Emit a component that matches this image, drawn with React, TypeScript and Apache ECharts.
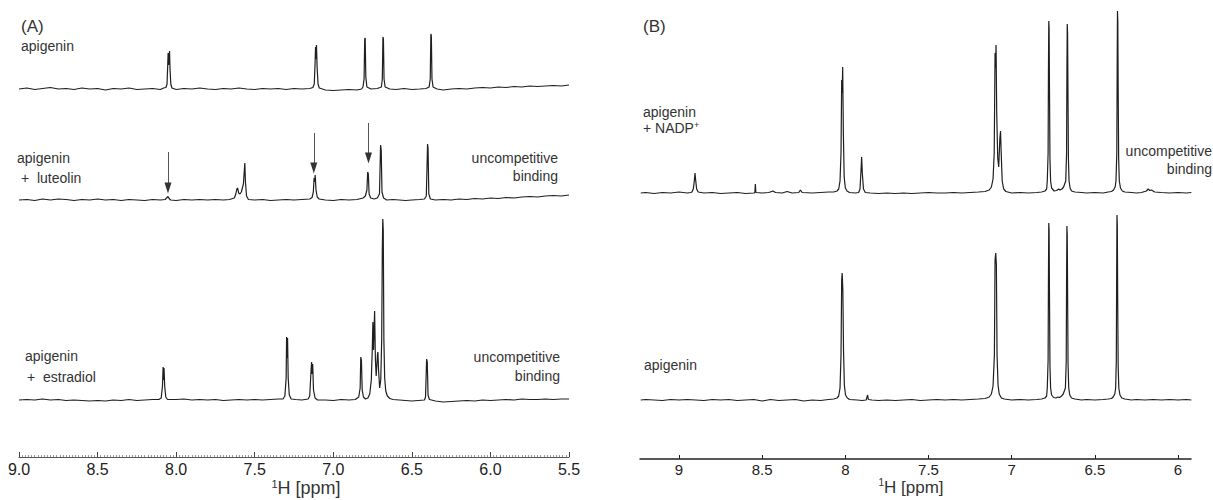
import React, { useEffect, useRef } from "react";
import * as echarts from "echarts";

type Pt = [number, number];

const FONT = "'Liberation Sans', Arial, Helvetica, sans-serif";
const LINE = "#1f1f1f";
const TEXT = "#333";

// tick labels
const ticksA = [9.0, 8.5, 8.0, 7.5, 7.0, 6.5, 6.0, 5.5];
const ticksB = [9, 8.5, 8, 7.5, 7, 6.5, 6];

// Panel A – apigenin (top trace), [ppm, intensity]
const apigeninA: Pt[] = [
  [9.0, 0], [8.95, 1], [8.9, -0.5], [8.85, 0.5], [8.8, 1.5], [8.75, 0], [8.7, 0.5], [8.65, -0.5], [8.6, 1], [8.55, 0],
  [8.5, 0.5], [8.45, -1], [8.4, 0.5], [8.35, 0], [8.3, 1], [8.25, -0.5], [8.2, 0], [8.15, 0.5], [8.1, -0.5], [8.08, 1],
  [8.065, 1.5], [8.058, 5], [8.054, 22], [8.051, 36], [8.048, 24], [8.045, 31], [8.042, 38], [8.039, 20], [8.034, 5], [8.027, 1],
  [8.0, -0.5], [7.95, 0.5], [7.9, 0], [7.85, 1], [7.8, 0], [7.75, -0.5], [7.7, 0.5], [7.65, 0], [7.6, 1], [7.55, 0],
  [7.5, -0.5], [7.45, 0.5], [7.4, 0], [7.35, 0.5], [7.3, -0.5], [7.25, 0.5], [7.2, 0], [7.15, 0.5],
  [7.13, 1.5], [7.121, 5], [7.116, 25], [7.113, 42], [7.11, 30], [7.107, 44], [7.103, 22], [7.097, 5], [7.089, 1],
  [7.05, -1], [7.0, -1.5], [6.95, -1], [6.9, -0.5], [6.85, -1], [6.82, 0],
  [6.811, 2], [6.804, 10], [6.8, 50], [6.797, 51], [6.793, 12], [6.786, 2],
  [6.76, 0], [6.72, 0.5],
  [6.694, 2], [6.688, 10], [6.684, 52], [6.681, 50], [6.677, 10], [6.67, 2],
  [6.64, 0], [6.6, -0.5], [6.55, 0.5], [6.5, -0.5], [6.45, 0], [6.41, 0.5],
  [6.39, 2], [6.383, 10], [6.379, 55], [6.376, 53], [6.372, 10], [6.365, 2],
  [6.34, 0], [6.3, -1], [6.25, 0], [6.2, 0.5], [6.15, 0], [6.1, 1], [6.05, 1.5], [6.0, 1], [5.95, 2], [5.9, 1.5],
  [5.85, 2.5], [5.8, 2], [5.75, 3], [5.7, 2.5], [5.65, 3], [5.6, 3.5], [5.55, 3], [5.5, 4],
];

// Panel A – apigenin + luteolin (middle trace)
const luteolinA: Pt[] = [
  [9.0, 0], [8.95, 0.5], [8.9, -0.5], [8.85, 1], [8.8, 0], [8.75, 1], [8.7, 0.5], [8.65, -0.5], [8.6, 0.5], [8.55, 0],
  [8.5, 1], [8.45, 0], [8.4, 0.5], [8.35, -0.5], [8.3, 0.5], [8.25, 0], [8.2, -0.5], [8.15, 0.5], [8.1, 0], [8.07, 0.5],
  [8.058, 2.5], [8.052, 3.5], [8.045, 1.5], [8.035, 0],
  [8.0, -0.5], [7.95, 0.5], [7.9, 0], [7.85, 0.5], [7.8, 0], [7.75, 0.5], [7.7, 0], [7.66, 0.5],
  [7.63, 2], [7.62, 6], [7.614, 11], [7.609, 12], [7.602, 7], [7.594, 6], [7.585, 8], [7.572, 16], [7.566, 30], [7.563, 37], [7.559, 18], [7.552, 4], [7.54, 0.5],
  [7.5, 0], [7.45, 0.5], [7.4, -0.5], [7.35, 0], [7.3, 0.5], [7.25, 0], [7.2, 0.5], [7.15, 1],
  [7.135, 2.5], [7.127, 8], [7.122, 22], [7.119, 18], [7.115, 25], [7.11, 10], [7.102, 3], [7.09, 1],
  [7.05, 0], [7.0, -0.5], [6.95, 0.5], [6.9, 0], [6.85, 0.5], [6.81, 2],
  [6.796, 4], [6.786, 10], [6.781, 28], [6.777, 26], [6.772, 6], [6.762, 2], [6.74, 1], [6.72, 2],
  [6.706, 6], [6.699, 55], [6.695, 50], [6.69, 8], [6.68, 2], [6.66, 0],
  [6.62, 0.5], [6.58, 0], [6.54, -0.5], [6.5, 0], [6.45, 0.5], [6.42, 1],
  [6.408, 4], [6.4, 56], [6.397, 52], [6.392, 6], [6.382, 1],
  [6.35, 0], [6.3, 0.5], [6.25, 0], [6.2, 1], [6.15, 0.5], [6.1, 1.5], [6.05, 1], [6.0, 2], [5.95, 1.5], [5.9, 2.5],
  [5.85, 2], [5.8, 3], [5.75, 3.5], [5.7, 3], [5.65, 4], [5.6, 4.5], [5.55, 4], [5.5, 5],
];

// Panel A – apigenin + estradiol (bottom trace)
const estradiolA: Pt[] = [
  [9.0, 0], [8.95, 0.5], [8.9, 0], [8.85, 1], [8.8, 0], [8.75, 0.5], [8.7, -0.5], [8.65, 0], [8.6, -0.5], [8.55, -1],
  [8.5, -0.5], [8.45, -1], [8.4, 0], [8.35, -0.5], [8.3, 0.5], [8.25, -0.5], [8.2, 0], [8.15, 0.5], [8.11, 0.5],
  [8.095, 2], [8.087, 14], [8.083, 33], [8.08, 20], [8.077, 32], [8.073, 14], [8.066, 3], [8.055, 0.5],
  [8.0, 0.5], [7.95, 1], [7.9, 0], [7.85, 0.5], [7.8, 0], [7.75, 0.5], [7.7, -0.5], [7.65, 0], [7.6, 0.5], [7.55, 0],
  [7.5, 0.5], [7.45, 0], [7.4, 0.5], [7.35, 1], [7.32, 1],
  [7.308, 4], [7.3, 22], [7.297, 63], [7.294, 42], [7.291, 62], [7.287, 22], [7.28, 5], [7.268, 1],
  [7.24, 0.5], [7.2, 0], [7.16, 1],
  [7.15, 4], [7.142, 28], [7.138, 38], [7.135, 26], [7.131, 36], [7.126, 10], [7.116, 2], [7.1, 0],
  [7.05, 0], [7.0, -0.5], [6.95, 0.5], [6.9, 0], [6.86, 0.5],
  [6.838, 3], [6.829, 12], [6.825, 43], [6.821, 40], [6.816, 10], [6.808, 3], [6.795, 1], [6.78, 2],
  [6.768, 6], [6.758, 20], [6.752, 50], [6.748, 78], [6.744, 50], [6.737, 89], [6.732, 40], [6.727, 24],
  [6.719, 45], [6.716, 48], [6.712, 30], [6.705, 12], [6.698, 20], [6.692, 60], [6.688, 150], [6.685, 181],
  [6.682, 170], [6.678, 60], [6.673, 22], [6.666, 9], [6.656, 4], [6.64, 1.5], [6.62, 0.5],
  [6.58, 0], [6.54, -0.5], [6.5, -1], [6.46, -0.5], [6.42, 0],
  [6.413, 3], [6.406, 41], [6.402, 38], [6.397, 5], [6.388, 0.5],
  [6.35, -1], [6.3, -2], [6.25, -1.5], [6.2, -1], [6.15, -0.5], [6.1, -1], [6.05, 0], [6.0, -0.5], [5.95, 0], [5.9, 0.5],
  [5.85, 0], [5.8, 1], [5.75, 0.5], [5.7, 0.5], [5.65, 1], [5.6, 0.5], [5.55, 1], [5.5, 1],
];

// Panel B – apigenin + NADP+ (top trace)
const nadpB: Pt[] = [
  [9.23, 0], [9.2, 0.5], [9.15, -0.5], [9.1, 0.5], [9.05, 0], [9.0, 1], [8.95, 0], [8.93, 0.5],
  [8.922, 1], [8.914, 4], [8.908, 12], [8.904, 20], [8.9, 13], [8.894, 4], [8.885, 1],
  [8.85, 0], [8.8, 0.5], [8.75, -0.5], [8.7, 0], [8.65, 0.5], [8.6, -0.5], [8.55, 0],
  [8.544, 0.5], [8.541, 9], [8.538, 0.5], [8.5, 0], [8.46, 0.5], [8.435, 2], [8.42, 0.5], [8.38, 0], [8.35, 1.5],
  [8.32, 0], [8.28, 0.5], [8.27, 3], [8.26, 0.5], [8.2, 0], [8.15, 0.5], [8.1, 1], [8.07, 1],
  [8.05, 2], [8.04, 4], [8.032, 12], [8.026, 40], [8.022, 113], [8.019, 100], [8.016, 126], [8.012, 60], [8.007, 16], [8.0, 5], [7.99, 2], [7.975, 0.5],
  [7.94, 0], [7.92, 0.5], [7.912, 4], [7.906, 22], [7.902, 36], [7.898, 20], [7.891, 4], [7.88, 0.5],
  [7.85, 0], [7.8, -0.5], [7.75, 0], [7.7, -0.5], [7.65, 0], [7.6, -0.5], [7.55, 0], [7.5, 0.5], [7.45, 0], [7.4, 0],
  [7.35, 0.5], [7.3, 0], [7.25, 0.5], [7.2, 1], [7.16, 1.5],
  [7.135, 3], [7.122, 6], [7.112, 14], [7.105, 40], [7.1, 140], [7.097, 125], [7.094, 148], [7.09, 80], [7.084, 35],
  [7.078, 26], [7.071, 55], [7.067, 62], [7.063, 40], [7.057, 12], [7.048, 4], [7.035, 1.5],
  [7.0, 0], [6.95, 0.5], [6.9, 0], [6.85, 0.5], [6.82, 1],
  [6.8, 2], [6.79, 4], [6.786, 12], [6.781, 40], [6.779, 120], [6.777, 172], [6.775, 165], [6.773, 110], [6.77, 35], [6.766, 12], [6.76, 5],
  [6.745, 2], [6.73, 2.5], [6.718, 4], [6.71, 3], [6.698, 4], [6.688, 6],
  [6.675, 12], [6.67, 40], [6.668, 120], [6.666, 169], [6.664, 160], [6.662, 110], [6.659, 35], [6.655, 12], [6.649, 5], [6.64, 2], [6.62, 1],
  [6.58, 0.5], [6.55, 0], [6.5, 0.5], [6.45, 0], [6.42, 1], [6.4, 1.5],
  [6.388, 3], [6.378, 6], [6.373, 12], [6.368, 40], [6.366, 120], [6.364, 182], [6.362, 172], [6.36, 110], [6.357, 35], [6.353, 12], [6.346, 5], [6.335, 2], [6.32, 1],
  [6.28, 0.5], [6.25, 0], [6.22, 0.5], [6.19, 2], [6.18, 4], [6.17, 2.5], [6.16, 3], [6.14, 1], [6.1, 0.5], [6.05, 0],
  [6.0, 0.5], [5.95, 0], [5.92, 0.5],
];

// Panel B – apigenin (bottom trace)
const apigeninB: Pt[] = [
  [9.23, 0], [9.2, 0.5], [9.15, 0], [9.1, -0.5], [9.05, 0.5], [9.0, 0], [8.95, 0.5], [8.9, 0], [8.85, -0.5], [8.8, 0.5],
  [8.75, 0], [8.7, 0.5], [8.65, -0.5], [8.6, 0], [8.55, 0.5], [8.5, -1], [8.45, 0.5], [8.4, -0.5], [8.35, 0], [8.3, 0.5],
  [8.25, -1], [8.2, 0], [8.15, -0.5], [8.1, 0.5], [8.07, 1],
  [8.05, 2], [8.04, 4], [8.032, 12], [8.026, 45], [8.022, 120], [8.019, 127], [8.015, 110], [8.011, 50], [8.006, 15], [7.999, 5], [7.988, 2], [7.975, 0.5],
  [7.93, 0], [7.9, -0.5], [7.875, 0], [7.866, 5], [7.862, 0.5], [7.84, 0], [7.8, -0.5], [7.75, 0], [7.7, -0.5], [7.65, 0],
  [7.6, 0.5], [7.55, -0.5], [7.5, 0], [7.45, 0.5], [7.4, 0], [7.35, 0.5], [7.3, 0], [7.25, 0.5], [7.2, 1], [7.16, 1.5],
  [7.135, 3], [7.122, 6], [7.112, 14], [7.104, 45], [7.1, 140], [7.096, 147], [7.092, 135], [7.088, 45], [7.082, 15], [7.075, 6], [7.062, 2], [7.045, 1],
  [7.0, 0], [6.95, 0.5], [6.9, 0], [6.85, 0.5], [6.82, 1],
  [6.8, 2], [6.79, 4], [6.786, 12], [6.781, 40], [6.779, 120], [6.777, 177], [6.775, 170], [6.773, 110], [6.77, 35], [6.766, 12], [6.76, 5],
  [6.748, 2.5], [6.735, 2], [6.722, 3], [6.712, 2.5], [6.7, 4], [6.69, 6],
  [6.677, 12], [6.672, 40], [6.67, 120], [6.668, 174], [6.666, 165], [6.664, 110], [6.661, 35], [6.657, 12], [6.651, 5], [6.64, 2], [6.62, 1],
  [6.58, 0], [6.55, 0.5], [6.5, 0], [6.45, 0.5], [6.42, 1], [6.4, 1.5],
  [6.39, 3], [6.38, 6], [6.375, 12], [6.371, 40], [6.369, 120], [6.367, 185], [6.365, 175], [6.363, 110], [6.36, 35], [6.356, 12], [6.349, 5], [6.338, 2], [6.32, 1],
  [6.28, 0], [6.25, 0.5], [6.2, 0], [6.15, 0.5], [6.1, 0], [6.05, 0.5], [6.0, 0], [5.95, 0.5], [5.92, 0],
];

// arrows on the luteolin trace: [ppm, start intensity, tip intensity]
const arrowsA: [number, number, number][] = [
  [8.052, 48, 7],
  [7.124, 67, 27],
  [6.776, 77, 37],
];

const shift = (pts: Pt[], off: number) => pts.map(([x, y]) => [x, y + off]);

const txt = (x: number, y: number, text: string, size = 14, align = "left", rich?: any) => ({
  type: "text",
  x,
  y,
  silent: true,
  style: {
    text,
    fill: TEXT,
    fontSize: size,
    fontFamily: FONT,
    align,
    verticalAlign: "middle",
    textAlign: align,
    textVerticalAlign: "middle",
    rich,
  },
});

const supRich = (size: number, supSize: number) => ({
  n: { fontSize: size, fontFamily: FONT, fill: TEXT, color: TEXT, lineHeight: size + 2, verticalAlign: "middle" },
  s: { fontSize: supSize, fontFamily: FONT, fill: TEXT, color: TEXT, lineHeight: supSize, verticalAlign: "top" },
});

const lineSeries = (data: any[], idx: number) => ({
  type: "line",
  xAxisIndex: idx,
  yAxisIndex: idx,
  data,
  symbol: "none",
  showSymbol: false,
  silent: true,
  clip: false,
  lineStyle: { color: LINE, width: 1.2 },
});

const LUT_OFF = 257;

const option: any = {
  animation: false,
  backgroundColor: "#fff",
  grid: [
    { left: 19, top: 0, width: 550, height: 457 },
    { left: 640, top: 0, width: 551, height: 459 },
  ],
  xAxis: [
    {
      gridIndex: 0,
      type: "value",
      min: 5.5,
      max: 9.0,
      interval: 0.5,
      inverse: true,
      splitLine: { show: false },
      axisLine: { lineStyle: { color: "#555", width: 1 } },
      axisTick: { inside: true, length: 5, lineStyle: { color: "#444" } },
      minorTick: { show: true, splitNumber: 25, length: 2, lineStyle: { color: "#999" } },
      axisLabel: {
        customValues: ticksA,
        formatter: (v: number) => v.toFixed(1),
        fontSize: 16,
        color: "#222",
        margin: 4,
        fontFamily: FONT,
        showMinLabel: true,
        showMaxLabel: true,
      },
    },
    {
      gridIndex: 1,
      type: "value",
      min: 5.922,
      max: 9.2345,
      inverse: true,
      splitLine: { show: false },
      axisLine: { lineStyle: { color: "#222", width: 1.5 } },
      axisTick: { inside: true, length: 4, customValues: ticksB, lineStyle: { color: "#222" } },
      axisLabel: {
        customValues: ticksB,
        formatter: (v: number) => String(v),
        fontSize: 15,
        color: "#222",
        margin: 3,
        fontFamily: FONT,
      },
    },
  ],
  yAxis: [
    { gridIndex: 0, type: "value", min: 0, max: 457, show: false },
    { gridIndex: 1, type: "value", min: 0, max: 459, show: false },
  ],
  series: [
    lineSeries(shift(apigeninA, 368), 0),
    {
      ...lineSeries(shift(luteolinA, LUT_OFF), 0),
      markLine: {
        silent: true,
        symbol: ["none", "none"],
        label: { show: false },
        lineStyle: { color: "#555", width: 1, type: "solid" },
        data: arrowsA.map(([p, a, b]) => [{ coord: [p, a + LUT_OFF] }, { coord: [p, b + LUT_OFF + 4] }]),
      },
      markPoint: {
        silent: true,
        symbol: "triangle",
        symbolSize: [7, 11],
        symbolRotate: 180,
        symbolOffset: [0, -5],
        label: { show: false },
        itemStyle: { color: "#333" },
        data: arrowsA.map(([p, , b]) => ({ coord: [p, b + LUT_OFF] })),
      },
    },
    lineSeries(shift(estradiolA, 57), 0),
    lineSeries(shift(nadpB, 266), 1),
    lineSeries(shift(apigeninB, 59), 1),
  ],
  graphic: [
    txt(21, 26, "(A)", 17),
    txt(21, 46, "apigenin"),
    txt(17, 158, "apigenin"),
    txt(21, 178, "+  luteolin"),
    txt(25, 356, "apigenin"),
    txt(27, 377, "+  estradiol"),
    txt(558, 158, "uncompetitive", 14, "right"),
    txt(558, 176, "binding", 14, "right"),
    txt(560, 357, "uncompetitive", 14, "right"),
    txt(560, 376, "binding", 14, "right"),
    txt(306, 488, "{s|1}{n|H [ppm]}", 18, "center", supRich(18, 11)),
    txt(643, 26, "(B)", 17),
    txt(643, 112, "apigenin"),
    txt(643, 128, "{n|+ NADP}{s|+}", 14, "left", supRich(14, 9)),
    txt(1212, 151, "uncompetitive", 14, "right"),
    txt(1212, 169, "binding", 14, "right"),
    txt(644, 365, "apigenin"),
    txt(911, 487, "{s|1}{n|H [ppm]}", 17, "center", supRich(17, 10)),
  ],
};

export default function App() {
  const ref = useRef<HTMLDivElement>(null);
  useEffect(() => {
    if (!ref.current) return;
    const chart = echarts.init(ref.current, null, { renderer: "svg" });
    chart.setOption(option);
    return () => chart.dispose();
  }, []);
  return (
    <div
      ref={ref}
      style={{ position: "absolute", left: 0, top: 0, width: 1213, height: 500, background: "#fff" }}
    />
  );
}
